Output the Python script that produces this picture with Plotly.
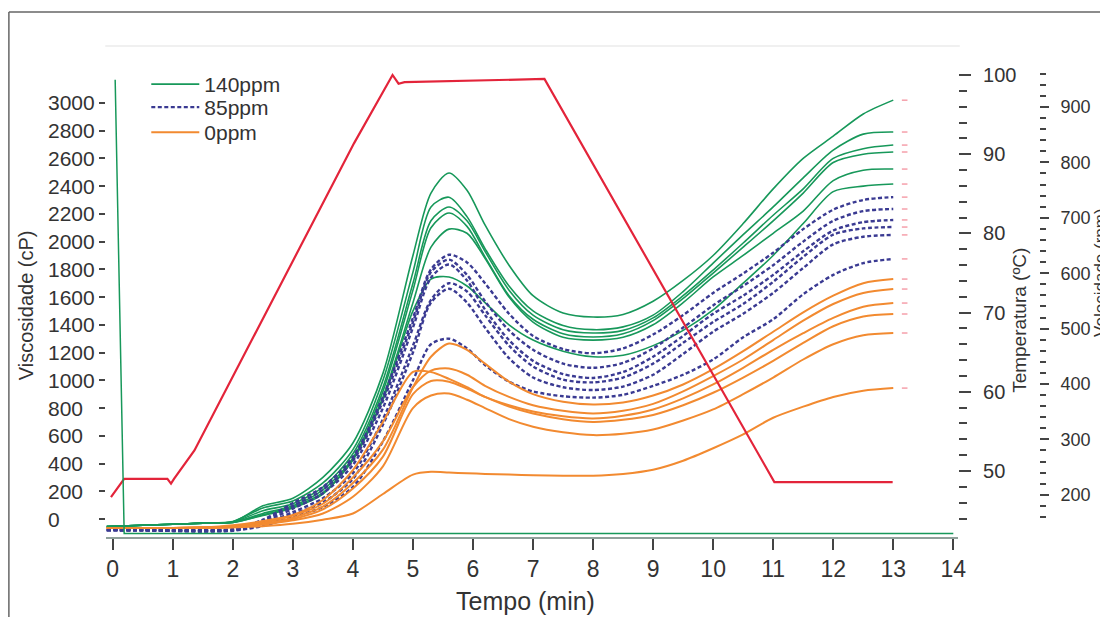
import plotly.graph_objects as go

# ---------------- data ----------------
T = [-0.1, 0.5, 1, 1.5, 2, 2.5, 3, 3.5, 4, 4.5, 5, 5.3, 5.6, 5.9, 6.2, 6.6, 7, 7.5, 8, 8.5,
     9, 9.5, 10, 10.5, 11, 11.5, 12, 12.5, 13]

ppm140 = [
    [-55,-45,-38,-30,-20,95,150,300,548,1050,1900,2350,2495,2370,2120,1830,1610,1485,1456,1475,1570,1720,1900,2130,2380,2600,2760,2920,3020],
    [-55,-45,-38,-30,-18,80,130,260,500,1000,1780,2250,2320,2180,1950,1680,1500,1395,1365,1385,1470,1640,1845,2050,2250,2460,2660,2775,2790],
    [-55,-45,-38,-30,-22,60,110,230,470,950,1700,2150,2250,2150,1930,1650,1470,1365,1341,1360,1450,1610,1795,1990,2190,2380,2600,2670,2696],
    [-55,-45,-38,-30,-25,40,95,210,440,920,1650,2100,2206,2110,1890,1610,1440,1335,1312,1335,1430,1590,1773,1960,2150,2350,2570,2630,2646],
    [-55,-45,-38,-30,-25,30,87,190,425,880,1560,1960,2090,2060,1880,1600,1420,1310,1290,1310,1400,1560,1745,1900,2060,2220,2440,2515,2523],
    [-55,-45,-38,-30,-25,25,80,180,430,860,1500,1730,1745,1680,1560,1400,1290,1210,1170,1180,1250,1360,1507,1700,1900,2130,2360,2400,2415],
]
ppm85 = [
    [-80,-80,-80,-80,-72,-5,115,231,447,880,1450,1800,1905,1850,1700,1480,1320,1225,1195,1230,1330,1470,1630,1770,1920,2090,2230,2300,2321],
    [-80,-80,-82,-82,-75,-15,95,210,420,850,1420,1780,1870,1760,1570,1360,1220,1120,1090,1125,1230,1380,1540,1680,1830,2000,2150,2220,2235],
    [-80,-80,-82,-84,-78,-25,75,185,390,800,1380,1740,1835,1720,1510,1290,1140,1045,1017,1060,1170,1320,1480,1610,1760,1930,2080,2140,2156],
    [-80,-80,-84,-86,-80,-35,50,150,330,720,1250,1580,1700,1640,1470,1250,1100,1005,985,1020,1120,1270,1420,1550,1710,1890,2050,2095,2105],
    [-80,-82,-86,-88,-82,-40,35,120,290,680,1200,1560,1660,1560,1380,1160,1020,950,930,955,1040,1190,1350,1480,1630,1810,1980,2035,2048],
    [-80,-82,-86,-90,-85,-50,15,87,231,560,1000,1260,1300,1230,1110,990,920,885,875,895,960,1040,1150,1310,1440,1620,1760,1845,1875],
]
ppm0 = [
    [-65,-65,-65,-62,-55,-35,10,90,260,500,950,1170,1265,1220,1120,990,900,845,825,840,890,970,1080,1210,1350,1490,1610,1700,1730],
    [-65,-65,-65,-62,-50,-25,25,110,300,560,950,1070,1085,1040,960,880,820,780,760,780,830,920,1030,1150,1290,1430,1550,1630,1658],
    [-65,-65,-65,-60,-45,-15,29,137,353,700,1060,1060,1010,950,880,820,775,740,725,745,790,870,970,1090,1220,1340,1450,1530,1557],
    [-65,-65,-65,-62,-55,-35,0,70,220,450,900,995,990,940,880,810,760,720,700,715,750,820,910,1020,1140,1270,1390,1460,1478],
    [-65,-65,-65,-62,-58,-40,-10,40,160,380,800,890,905,860,800,720,665,625,605,615,645,710,790,900,1020,1150,1260,1325,1341],
    [-65,-65,-65,-65,-62,-52,-35,-5,40,180,320,340,335,330,325,320,315,312,312,325,355,420,510,610,730,810,880,925,944],
]

temp_t = [-0.03, 0.19, 0.91, 0.97, 1.02, 1.36, 4.02, 4.66, 4.76, 4.86, 7.19, 11.02, 12.99]
temp_v = [46.7, 49.0, 49.0, 48.4, 49.0, 52.6, 91.4, 100.0, 98.9, 99.1, 99.5, 48.6, 48.6]

speed_t = [0.04, 0.19, 14.0]
speed_v = [949, 130, 130]

end_t = 13.19

x_ticks = list(range(0, 15))
y_ticks = list(range(0, 3001, 200))
temp_ticks = [50, 60, 70, 80, 90, 100]
temp_minor = [v for v in range(44, 101, 2) if v % 10 != 0]
vel_ticks = list(range(200, 901, 100))
vel_minor = [v for v in range(160, 961, 20) if v % 100 != 0]

series = [("140ppm", ppm140, "#17985a", None, 1.6, "legend", 64),
          ("85ppm", ppm85, "#3a3a92", "4px,2.5px", 2.4, "legend2", 87),
          ("0ppm", ppm0, "#f28a30", None, 2.0, "legend3", 112)]

# ---------------- figure ----------------
W, H = 1113, 609
# picture pixel -> paper fraction (measured from the rendered page)
def px_x(p): return (p - 8.8) / 1104.3
def px_y(p): return 1 - (p - 8) / H

FONT = "Liberation Sans, Arial, sans-serif"
TXT = "#333"

fig = go.Figure()

for name, curves, color, dash, width, leg, _ in series:
    for i, c in enumerate(curves):
        fig.add_trace(go.Scatter(
            x=T, y=c, mode="lines", name=name, legendgroup=name, legend=leg,
            showlegend=(i == 0),
            line=dict(color=color, width=width, dash=dash, shape="spline", smoothing=0.8),
            hoverinfo="skip"))

finals = [c[-1] for s in series for c in s[1]]
fig.add_trace(go.Scatter(
    x=[end_t] * len(finals), y=finals, mode="markers", showlegend=False,
    marker=dict(symbol="line-ew", size=4, line=dict(color="#f07080", width=1)),
    hoverinfo="skip"))

fig.add_trace(go.Scatter(x=speed_t, y=speed_v, yaxis="y3", mode="lines",
                         showlegend=False, line=dict(color="#17985a", width=1.5)))
fig.add_trace(go.Scatter(x=temp_t, y=temp_v, yaxis="y2", mode="lines",
                         showlegend=False, line=dict(color="#e3243a", width=2.2)))

y_bot, y_top = 537, 46
dom = [px_y(y_bot), px_y(y_top)]
visc_range = [(519 - y_bot) / 0.1387, (519 - y_top) / 0.1387]
temp_range = [100 - (y_bot - 75) / 7.92, 100 + (75 - y_top) / 7.92]
vel_range = [900 - (y_bot - 107) / 0.554, 900 + (107 - y_top) / 0.554]

tick_font = dict(family=FONT, size=21, color=TXT)

legends = {}
for name, _, _, _, _, leg, top in series:
    legends[leg] = dict(x=px_x(147), y=px_y(top), xanchor="left", yanchor="top",
                        bgcolor="rgba(0,0,0,0)", font=dict(family=FONT, size=21, color=TXT),
                        itemwidth=48)

fig.update_layout(
    width=W, height=H, margin=dict(l=0, r=0, t=0, b=0),
    paper_bgcolor="white", plot_bgcolor="white",
    xaxis=dict(domain=[px_x(106.3), px_x(958.3)], range=[-0.12, 14.08],
               tickvals=x_ticks, ticks="outside", ticklen=11, tickwidth=1.5,
               tickcolor="#444", showline=True, linecolor="#8fa09a", linewidth=1.5,
               showgrid=False, zeroline=False, tickfont=dict(family=FONT, size=23, color=TXT)),
    yaxis=dict(domain=dom, range=visc_range, tickvals=y_ticks, ticks="outside",
               ticklen=6, tickwidth=1.5, tickcolor="#444", showticklabels=False,
               showline=False, showgrid=False, zeroline=False),
    yaxis2=dict(domain=dom, range=temp_range, overlaying="y", side="right",
                anchor="free", position=px_x(958.3), tickvals=temp_ticks,
                ticks="outside", ticklen=12, tickwidth=1.5, tickcolor="#444",
                minor=dict(tickvals=temp_minor, ticks="outside", ticklen=8,
                           tickwidth=1.5, tickcolor="#444"),
                ticklabelstandoff=8, showline=False, showgrid=False, zeroline=False,
                tickfont=dict(family=FONT, size=20, color=TXT)),
    yaxis3=dict(domain=dom, range=vel_range, overlaying="y", side="right",
                anchor="free", position=px_x(1039), tickvals=vel_ticks,
                ticks="outside", ticklen=9, tickwidth=1.5, tickcolor="#444",
                minor=dict(tickvals=vel_minor, ticks="outside", ticklen=6,
                           tickwidth=1.5, tickcolor="#444"),
                ticklabelstandoff=8, showline=False, showgrid=False, zeroline=False,
                tickfont=dict(family=FONT, size=18, color=TXT)),
    showlegend=True,
    **legends,
)

annotations = []
for v in y_ticks:
    annotations.append(dict(x=px_x(47), xref="paper", y=v, yref="y", text=str(v),
                            xanchor="left", yanchor="middle", showarrow=False,
                            font=tick_font))
annotations.append(dict(x=px_x(526), y=px_y(601), xref="paper", yref="paper",
                        text="Tempo (min)", showarrow=False, xanchor="center",
                        yanchor="middle", font=dict(family=FONT, size=25, color=TXT)))
annotations.append(dict(x=px_x(27), y=px_y(305), xref="paper", yref="paper",
                        text="Viscosidade (cP)", textangle=-90, showarrow=False,
                        xanchor="center", yanchor="middle",
                        font=dict(family=FONT, size=20, color=TXT)))
annotations.append(dict(x=px_x(1019), y=px_y(320), xref="paper", yref="paper",
                        text="Temperatura (ºC)", textangle=-90, showarrow=False,
                        xanchor="center", yanchor="middle",
                        font=dict(family=FONT, size=19, color=TXT)))
annotations.append(dict(x=px_x(1100), y=px_y(272), xref="paper", yref="paper",
                        text="Velocidade (rpm)", textangle=-90, showarrow=False,
                        xanchor="center", yanchor="middle",
                        font=dict(family=FONT, size=17, color=TXT)))
fig.update_layout(annotations=annotations)

fig.update_layout(shapes=[
    dict(type="line", xref="paper", yref="paper", x0=0.0008, x1=1, y0=px_y(12), y1=px_y(12),
         line=dict(color="#666", width=1.5)),
    dict(type="line", xref="paper", yref="paper", x0=0.0008, x1=0.0008, y0=px_y(12), y1=0,
         line=dict(color="#666", width=1.5)),
    dict(type="line", xref="paper", yref="paper", x0=px_x(106), x1=px_x(960), y0=px_y(46), y1=px_y(46),
         line=dict(color="#ebebeb", width=1.5)),
])

fig.write_html("out.html")
